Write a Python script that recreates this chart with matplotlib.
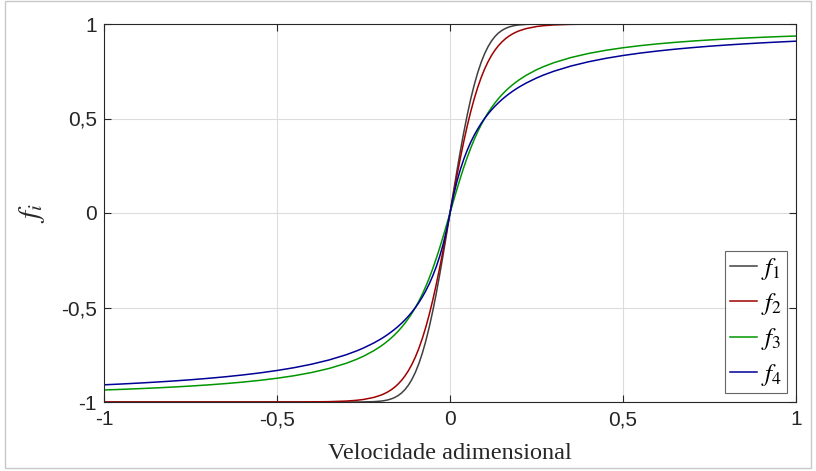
import numpy as np
import matplotlib
matplotlib.use("Agg")
import matplotlib.pyplot as plt
from matplotlib.patches import Rectangle

plt.rcParams['mathtext.fontset'] = 'stix'

# valores (velocidade adimensional)
v = [-1.0, -0.95, -0.9, -0.85, -0.8, -0.75, -0.7, -0.65, -0.6, -0.55, -0.5, -0.45, -0.4, -0.35,
     -0.3, -0.27, -0.25, -0.22, -0.2, -0.19, -0.18, -0.17, -0.16, -0.15, -0.14, -0.13, -0.12, -0.11,
     -0.1, -0.09, -0.08, -0.07, -0.06, -0.05, -0.04, -0.03, -0.02, -0.01, 0.0,
     0.01, 0.02, 0.03, 0.04, 0.05, 0.06, 0.07, 0.08, 0.09, 0.1,
     0.11, 0.12, 0.13, 0.14, 0.15, 0.16, 0.17, 0.18, 0.19, 0.2, 0.22, 0.25, 0.27, 0.3,
     0.35, 0.4, 0.45, 0.5, 0.55, 0.6, 0.65, 0.7, 0.75, 0.8, 0.85, 0.9, 0.95, 1.0]

f1 = [-1, -1, -1, -1, -1, -1, -1, -1, -1, -1, -1, -1, -1, -1, -1,
      -0.9999, -0.9996, -0.9981, -0.9953, -0.9928, -0.9891, -0.9838, -0.9763, -0.9661, -0.9523,
      -0.9340, -0.9103, -0.8802, -0.8427, -0.7969, -0.7421, -0.6778, -0.6039, -0.5205, -0.4284,
      -0.3286, -0.2227, -0.1125, 0.0,
      0.1125, 0.2227, 0.3286, 0.4284, 0.5205, 0.6039, 0.6778, 0.7421, 0.7969, 0.8427,
      0.8802, 0.9103, 0.9340, 0.9523, 0.9661, 0.9763, 0.9838, 0.9891, 0.9928, 0.9953,
      0.9981, 0.9996, 0.9999,
      1, 1, 1, 1, 1, 1, 1, 1, 1, 1, 1, 1, 1, 1, 1]

f2 = [-1, -1, -1, -1, -1, -1, -1, -1, -1, -1,
      -0.9999, -0.9998, -0.9993, -0.9982, -0.9951, -0.9910, -0.9866, -0.9757, -0.9640, -0.9562,
      -0.9468, -0.9354, -0.9217, -0.9051, -0.8854, -0.8617, -0.8337, -0.8005, -0.7616, -0.7163,
      -0.6640, -0.6044, -0.5370, -0.4621, -0.3799, -0.2913, -0.1974, -0.0997, 0.0,
      0.0997, 0.1974, 0.2913, 0.3799, 0.4621, 0.5370, 0.6044, 0.6640, 0.7163, 0.7616,
      0.8005, 0.8337, 0.8617, 0.8854, 0.9051, 0.9217, 0.9354, 0.9468, 0.9562, 0.9640,
      0.9757, 0.9866, 0.9910, 0.9951, 0.9982, 0.9993, 0.9998, 0.9999,
      1, 1, 1, 1, 1, 1, 1, 1, 1, 1]

f3 = [-0.9365, -0.9332, -0.9295, -0.9255, -0.9208, -0.9156, -0.9097, -0.9028, -0.8949, -0.8855,
      -0.8743, -0.8608, -0.8440, -0.8228, -0.7952, -0.7742, -0.7578, -0.7284, -0.7048, -0.6916,
      -0.6772, -0.6615, -0.6444, -0.6257, -0.6051, -0.5826, -0.5577, -0.5303, -0.5000, -0.4665,
      -0.4295, -0.3888, -0.3440, -0.2952, -0.2422, -0.1856, -0.1257, -0.0635, 0.0,
      0.0635, 0.1257, 0.1856, 0.2422, 0.2952, 0.3440, 0.3888, 0.4295, 0.4665, 0.5000,
      0.5303, 0.5577, 0.5826, 0.6051, 0.6257, 0.6444, 0.6615, 0.6772, 0.6916, 0.7048,
      0.7284, 0.7578, 0.7742, 0.7952, 0.8228, 0.8440, 0.8608, 0.8743, 0.8855, 0.8949,
      0.9028, 0.9097, 0.9156, 0.9208, 0.9255, 0.9295, 0.9332, 0.9365]

f4 = [-0.9091, -0.9048, -0.9000, -0.8947, -0.8889, -0.8824, -0.8750, -0.8667, -0.8571, -0.8462,
      -0.8333, -0.8182, -0.8000, -0.7778, -0.7500, -0.7297, -0.7143, -0.6875, -0.6667, -0.6552,
      -0.6429, -0.6296, -0.6154, -0.6000, -0.5833, -0.5652, -0.5455, -0.5238, -0.5000, -0.4737,
      -0.4444, -0.4118, -0.3750, -0.3333, -0.2857, -0.2308, -0.1667, -0.0909, 0.0,
      0.0909, 0.1667, 0.2308, 0.2857, 0.3333, 0.3750, 0.4118, 0.4444, 0.4737, 0.5000,
      0.5238, 0.5455, 0.5652, 0.5833, 0.6000, 0.6154, 0.6296, 0.6429, 0.6552, 0.6667,
      0.6875, 0.7143, 0.7297, 0.7500, 0.7778, 0.8000, 0.8182, 0.8333, 0.8462, 0.8571,
      0.8667, 0.8750, 0.8824, 0.8889, 0.8947, 0.9000, 0.9048, 0.9091]

ticks = [-1, -0.5, 0, 0.5, 1]
tick_labels = ['-1', '-0,5', '0', '0,5', '1']
nomes = ['$f_1$', '$f_2$', '$f_3$', '$f_4$']
cores = ['#404040', '#a00000', '#009600', '#000096']

fig = plt.figure(figsize=(8.16, 4.71), dpi=100)
ax = fig.add_axes([104/816, 1-402/471, (796-104)/816, (402-24)/471])

for y, nome, cor in zip([f1, f2, f3, f4], nomes, cores):
    ax.plot(v, y, color=cor, lw=1.1, label=nome)

ax.set_xlim(-1, 1)
ax.set_ylim(-1, 1)
ax.set_xticks(ticks)
ax.set_xticklabels(tick_labels)
ax.set_yticks(ticks)
ax.set_yticklabels(tick_labels)
ax.grid(True, color='#dcdcdc', lw=0.8)
ax.set_axisbelow(True)
ax.tick_params(direction='in', length=5, width=0.8, top=True, right=True,
               labelsize=15, colors='#262626')
ax.tick_params(axis='x', pad=6)
ax.tick_params(axis='y', pad=5)
for lab in ax.get_xticklabels() + ax.get_yticklabels():
    lab.set_fontfamily('Liberation Sans')
for s in ax.spines.values():
    s.set_color('#262626')
    s.set_linewidth(0.8)

ax.set_xlabel('Velocidade adimensional', family='Liberation Serif', fontsize=17.5,
              color='#262626', labelpad=10)
ax.set_ylabel('$f_i$', fontsize=21, color='#262626', labelpad=10)

leg = ax.legend(loc='lower right', fontsize=18, handlelength=1.1, handletextpad=0.15,
                labelspacing=0.38, borderpad=0.2, borderaxespad=0.36, fancybox=False)
leg.get_frame().set_edgecolor('#404040')
leg.get_frame().set_linewidth(0.8)

fig.patches.append(Rectangle((5/816, 1-468/471), 806/816, 467/471, transform=fig.transFigure,
                             fill=False, edgecolor='#c8c8c8', lw=1))

fig.savefig('out.png', dpi=100)
